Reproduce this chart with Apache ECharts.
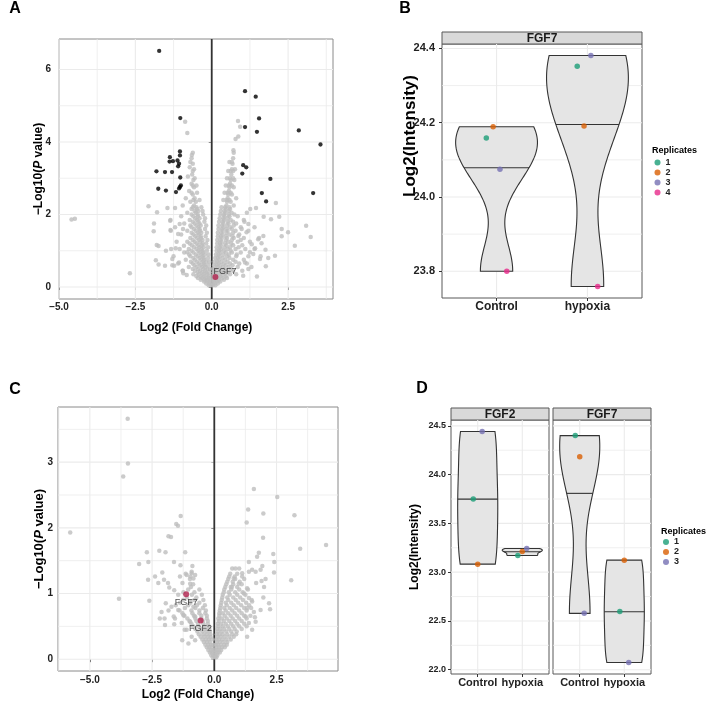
<!DOCTYPE html>
<html>
<head>
<meta charset="utf-8">
<script src="https://cdn.jsdelivr.net/npm/echarts@6/dist/echarts.min.js"></script>
<style>
  html, body { margin: 0; padding: 0; background: #fff; }
  #main { width: 709px; height: 705px; }
</style>
</head>
<body>
<div id="main"></div>
<script>
// ---------- data ----------
// panel A volcano: significant (black), others (grey), highlighted gene
var A_black = [[-1.72,6.51],[-1.03,4.66],[1.09,5.40],[1.44,5.25],[1.55,4.65],[1.09,4.41],[1.48,4.28],[2.85,4.32],
  [3.56,3.93],[1.03,3.36],[1.13,3.30],[1.00,3.13],[1.92,2.98],[1.64,2.59],[1.78,2.36],[3.32,2.59],
  [-1.04,3.74],[-1.04,3.63],[-1.37,3.58],[-1.27,3.47],[-1.38,3.46],[-1.12,3.49],[-1.07,3.40],[-1.10,3.33],
  [-1.81,3.19],[-1.53,3.17],[-1.30,3.17],[-1.03,3.02],[-1.01,2.80],[-1.04,2.76],[-1.75,2.71],[-1.50,2.66],
  [-1.17,2.62],[-1.07,2.72]];
var A_grayOut = [[-0.87,4.56],[-0.80,4.25],[-4.59,1.86],[-4.48,1.88],[-2.68,0.38],[-2.07,2.23],[-1.79,2.06],
  [-1.89,1.75],[-1.90,1.54],[-1.80,1.16],[-1.74,1.13],[-1.83,0.74],[-1.74,0.62],[-1.35,1.85],[-1.35,1.57],
  [-1.50,1.00],[-1.29,0.60],[-0.95,0.45],[-1.45,2.18],[-1.20,2.18],[-1.36,1.83],[-1.34,1.55],[-1.05,1.74],
  [-1.10,1.46],[-0.94,1.60],[-1.33,1.05],[-1.18,1.07],[-1.53,0.59],[-1.29,0.77],[-1.23,0.59],[-1.07,0.68],
  [-0.93,0.38],[-0.82,0.33],[-0.91,1.14],[-0.80,0.96],[-0.65,3.64],[-0.72,3.30],[-0.78,3.05],
  [0.86,4.58],[0.93,4.42],[0.87,4.15],[0.78,4.08],[0.71,3.77],[2.10,2.32],[1.26,2.15],[1.45,2.18],
  [1.70,1.94],[1.94,1.87],[2.21,1.94],[2.29,1.60],[2.29,1.40],[2.50,1.51],[2.72,1.14],[3.09,1.69],
  [3.24,1.38],[2.07,0.86],[1.77,0.57],[1.48,0.29],[1.85,0.80],[1.76,1.03],[1.63,1.21],[1.69,1.41],
  [1.52,1.32],[1.42,1.07],[1.36,0.91],[1.58,0.77],[1.25,0.96],[1.31,1.18],[1.09,0.68],[1.20,0.50],
  [1.03,0.31],[1.07,1.80],[1.20,1.74],[0.98,1.60],[1.14,1.51],[0.87,1.41]];
var A_grayRows = [[0.05,[-0.10,-0.03,0.04,0.12]],[0.15,[-0.25,-0.15,-0.06,0.08,0.18,0.28]],
  [0.25,[-0.45,-0.32,-0.20,-0.10,0.10,0.22,0.35,0.50]],[0.35,[-0.60,-0.42,-0.28,-0.15,0.14,0.28,0.42,0.60,0.80]],
  [0.45,[-0.95,-0.55,-0.38,-0.22,0.16,0.32,0.48,0.70,1.00]],[0.55,[-0.75,-0.50,-0.32,-0.20,0.20,0.36,0.55,0.85,1.30]],
  [0.65,[-1.10,-0.62,-0.42,-0.26,0.22,0.40,0.60,0.90,1.15]],[0.75,[-0.85,-0.55,-0.35,-0.24,0.24,0.44,0.70,1.05]],
  [0.85,[-1.25,-0.70,-0.46,-0.30,0.26,0.50,0.80,1.20,1.60]],[0.95,[-0.90,-0.60,-0.40,-0.28,0.28,0.46,0.66,0.95]],
  [1.05,[-1.05,-0.75,-0.50,-0.34,0.30,0.52,0.78,1.10,1.40]],[1.15,[-0.65,-0.44,-0.32,0.30,0.48,0.70,1.00]],
  [1.25,[-1.15,-0.80,-0.56,-0.38,0.32,0.54,0.85,1.25]],[1.35,[-0.70,-0.48,-0.35,0.33,0.50,0.72,1.05,1.55]],
  [1.45,[-1.00,-0.60,-0.42,0.35,0.58,0.90]],[1.55,[-0.80,-0.52,-0.38,0.36,0.52,0.78,1.20]],
  [1.65,[-1.20,-0.66,-0.44,0.38,0.60,0.95,1.40]],[1.75,[-0.90,-0.56,-0.40,0.38,0.55,0.80]],
  [1.85,[-0.72,-0.48,0.40,0.62,1.05]],[1.95,[-1.00,-0.60,-0.45,0.42,0.58,0.85]],
  [2.05,[-0.80,-0.52,0.44,0.65,1.15]],[2.15,[-0.66,-0.48,0.46,0.60]],[2.25,[-0.95,-0.58,0.48,0.72]],
  [2.35,[-0.70,-0.52,0.50,0.62]],[2.45,[-0.85,-0.56,0.52,0.80]],[2.55,[-0.62,0.54,0.66]],[2.65,[-0.74,0.56]],
  [2.75,[-0.58,0.58,0.72]],[2.85,[-0.66,0.60]],[2.95,[-0.60,0.62,0.74]],[3.10,[-0.64,0.64]],
  [3.25,[-0.58,0.66,0.76]],[3.40,[-0.62,0.68]],[3.55,[-0.66,0.70]],[3.70,[-0.62,0.72]]];
var A_grayRows2 = [[0.10,[-0.18,-0.08,0.02,0.10,0.20]],[0.20,[-0.36,-0.24,-0.14,-0.04,0.06,0.14,0.24,0.40]],
  [0.30,[-0.50,-0.36,-0.24,-0.10,0.00,0.08,0.18,0.30,0.46]],[0.40,[-0.46,-0.32,-0.18,-0.08,0.06,0.10,0.22,0.38,0.54]],
  [0.50,[-0.62,-0.44,-0.28,-0.14,-0.06,0.06,0.12,0.26,0.42,0.62]],[0.60,[-0.56,-0.38,-0.24,-0.12,0.08,0.16,0.28,0.46,0.68]],
  [0.70,[-0.68,-0.48,-0.30,-0.18,-0.08,0.10,0.18,0.32,0.52,0.78]],[0.80,[-0.60,-0.40,-0.26,-0.12,0.12,0.20,0.36,0.58]],
  [0.90,[-0.74,-0.52,-0.34,-0.22,-0.10,0.14,0.22,0.38,0.56,0.82]],[1.00,[-0.66,-0.44,-0.30,-0.16,0.16,0.24,0.40,0.62]],
  [1.10,[-0.58,-0.40,-0.26,-0.12,0.16,0.26,0.42,0.60,0.88]],[1.20,[-0.72,-0.50,-0.30,-0.18,0.18,0.27,0.44,0.64]],
  [1.30,[-0.62,-0.42,-0.30,-0.14,0.18,0.28,0.46,0.66,0.95]],[1.40,[-0.54,-0.36,-0.20,0.20,0.30,0.46,0.68]],
  [1.50,[-0.66,-0.46,-0.34,-0.16,0.20,0.31,0.48,0.70]],[1.60,[-0.58,-0.40,-0.22,0.22,0.33,0.48,0.66]],
  [1.70,[-0.70,-0.50,-0.36,-0.18,0.22,0.34,0.50,0.72]],[1.80,[-0.62,-0.44,-0.24,0.24,0.36,0.52,0.70]],
  [1.90,[-0.54,-0.40,-0.22,0.26,0.38,0.52]],[2.00,[-0.66,-0.46,-0.28,0.28,0.40,0.56,0.74]],
  [2.10,[-0.56,-0.44,-0.30,0.30,0.42,0.56]],[2.20,[-0.62,-0.50,-0.34,0.32,0.44,0.58]],
  [2.40,[-0.60,-0.40,0.38,0.50,0.58]],[2.60,[-0.66,-0.48,0.42,0.52,0.62]],[2.80,[-0.62,-0.50,0.46,0.56,0.66]],
  [3.00,[-0.56,0.50,0.60,0.70]],[3.20,[-0.62,0.54,0.62,0.70]],[3.45,[-0.70,0.58,0.66]]];
var A_hiNames = ['FGF7'];
var A_hi = [[0.12,0.28]];

// panel C volcano
var C_grayOut = [[-3.48,3.66],[-3.47,2.98],[-3.66,2.78],[-5.79,1.93],[-3.83,0.92],[-1.35,2.18],[-1.53,2.06],
  [-1.46,2.03],[-1.84,1.87],[-1.74,1.86],[-2.71,1.63],[-2.21,1.65],[-1.96,1.63],[-1.17,1.63],[-3.02,1.45],
  [-2.65,1.48],[-1.62,1.48],[-1.36,1.43],[-2.66,1.21],[-2.38,1.26],[-2.09,1.32],[-2.02,1.21],[-1.86,1.16],
  [-2.25,1.16],[-1.81,1.09],[-2.61,0.89],[-1.61,1.05],[-1.38,1.26],[-1.28,1.16],[-1.11,1.28],[-0.91,1.33],
  [-0.77,1.28],[-0.88,1.42],[-0.96,1.26],[-1.61,0.53],[-1.19,0.45],[-1.29,0.29],[-1.63,0.65],[-1.84,0.74],
  [-2.00,0.62],[-1.95,0.85],[-2.12,0.72],[-2.19,0.62],[-1.98,0.52],[-1.72,0.80],[-1.45,0.75],[-1.58,0.62],
  [-1.31,0.55],[-1.11,0.45],[-0.91,0.34],[-1.04,0.24],[-0.77,0.29],[-0.97,0.57],[-0.77,0.65],[-1.24,0.67],
  [-0.84,0.80],[-0.97,0.88],[-0.97,1.15],[-0.84,1.23],[-0.91,1.31],
  [1.59,2.59],[2.53,2.47],[1.36,2.28],[1.97,2.22],[3.22,2.19],[1.30,2.08],[1.96,1.85],[3.45,1.68],
  [4.49,1.74],[3.09,1.20],[1.79,1.62],[1.72,1.56],[2.37,1.60],[2.41,1.48],[2.40,1.32],[1.39,1.48],
  [1.93,1.42],[1.86,1.36],[1.66,1.33],[1.52,1.36],[1.39,1.33],[2.06,1.22],[1.90,1.19],[1.68,1.16],
  [2.00,1.10],[2.20,0.85],[2.24,0.76],[1.97,0.94],[1.86,0.75],[1.63,0.64],[1.66,0.57],[0.85,1.38],
  [1.12,1.31],[0.78,1.23],[0.98,1.15],[1.32,1.08],[0.71,1.10],[1.19,1.00],[1.39,0.93],[1.52,0.88],
  [1.32,0.78],[1.59,0.72],[1.26,0.65],[1.39,0.55],[1.52,0.45],[1.32,0.34]];
var C_grayRows = [[0.03,[-0.06,0.02,0.08]],[0.10,[-0.18,-0.10,-0.03,0.06,0.14,0.22]],
  [0.18,[-0.30,-0.20,-0.11,0.08,0.18,0.30,0.42]],[0.26,[-0.42,-0.30,-0.18,0.10,0.22,0.36,0.52]],
  [0.34,[-0.55,-0.40,-0.26,-0.15,0.12,0.26,0.42,0.60,0.78]],[0.42,[-0.68,-0.48,-0.32,-0.18,0.14,0.30,0.48,0.68,0.90]],
  [0.50,[-0.85,-0.62,-0.40,-0.22,0.16,0.34,0.54,0.76,1.00,1.30]],[0.58,[-1.00,-0.72,-0.46,-0.26,0.18,0.38,0.60,0.84,1.10]],
  [0.66,[-1.20,-0.82,-0.52,-0.30,0.20,0.42,0.66,0.92,1.20,1.45]],[0.74,[-1.40,-0.92,-0.60,-0.34,0.22,0.46,0.72,1.00,1.30]],
  [0.82,[-1.55,-1.05,-0.70,-0.38,0.26,0.50,0.78,1.08,1.40]],[0.90,[-1.25,-0.80,-0.44,0.30,0.56,0.86,1.15,1.50]],
  [0.98,[-1.45,-0.90,-0.50,0.34,0.62,0.92,1.25]],[1.06,[-1.05,-0.60,0.40,0.68,1.00,1.35]],
  [1.14,[-0.85,0.48,0.76,1.10]],[1.22,[-0.98,0.56,0.84,1.20]],[1.30,[-1.15,0.64,0.92]],[1.38,[0.72,1.00]]];
var C_grayRows2 = [[0.06,[-0.12,-0.04,0.04,0.12]],[0.14,[-0.24,-0.14,-0.06,0.02,0.10,0.18,0.28]],
  [0.22,[-0.36,-0.24,-0.14,-0.06,0.06,0.14,0.26,0.40,0.50]],[0.30,[-0.48,-0.34,-0.22,-0.10,0.08,0.18,0.32,0.48,0.66]],
  [0.38,[-0.62,-0.44,-0.30,-0.16,0.10,0.20,0.34,0.52,0.72,0.88]],[0.46,[-0.76,-0.54,-0.36,-0.20,0.12,0.24,0.40,0.60,0.82,1.10]],
  [0.54,[-0.92,-0.66,-0.44,-0.26,0.14,0.28,0.46,0.68,0.92,1.20]],[0.62,[-1.08,-0.76,-0.52,-0.30,0.16,0.30,0.50,0.74,1.00,1.30]],
  [0.70,[-1.28,-0.88,-0.60,-0.36,0.20,0.34,0.56,0.82,1.10]],[0.78,[-1.18,-0.76,-0.46,0.24,0.40,0.62,0.88,1.20,1.48]],
  [0.86,[-1.38,-0.96,-0.60,0.28,0.46,0.68,0.96,1.28]],[0.94,[-1.10,-0.72,0.32,0.52,0.76,1.04]],
  [1.02,[-1.24,-0.80,0.38,0.58,0.84,1.14]],[1.10,[-0.94,0.44,0.66,0.92]],[1.18,[0.52,0.74,1.02]],[1.26,[0.60,0.82,1.12]]];
var C_hiNames = ['FGF7','FGF2'];
var C_hi = [[-1.13,0.99],[-0.55,0.59]];

// panel B violin (FGF7), values per replicate 1..4
var B_categories = ['Control','hypoxia'];
var B_replicates = ['1','2','3','4'];
var B_control = [24.159, 24.189, 24.075, 23.800];
var B_hypoxia = [24.352, 24.191, 24.381, 23.759];

// panel D violins, values per replicate 1..3
var D_genes = ['FGF2','FGF7'];
var D_categories = ['Control','hypoxia'];
var D_replicates = ['1','2','3'];
var D_FGF2_control = [23.750, 23.082, 24.442];
var D_FGF2_hypoxia = [23.171, 23.212, 23.242];
var D_FGF7_control = [24.400, 24.183, 22.578];
var D_FGF7_hypoxia = [22.598, 23.123, 22.074];

// ---------- helpers ----------
var FONT = 'Liberation Sans, Arial, sans-serif';
var repColors = ['#1B9E77', '#D95F02', '#7570B3', '#E7298A'];

function flattenRows(rows) {
  var out = [];
  rows.forEach(function (r) { r[1].forEach(function (x) { out.push([x, r[0]]); }); });
  return out;
}
function fmt(d) { return function (v) { return v.toFixed(d).replace('-', '\u2212'); }; }

// kernel density like ggplot's geom_violin (gaussian, bw.nrd0, trimmed, scale = "width")
function q7(s, p) {
  var h = (s.length - 1) * p, lo = Math.floor(h);
  var hi = Math.min(lo + 1, s.length - 1);
  return s[lo] + (h - lo) * (s[hi] - s[lo]);
}
function violinShape(vals) {
  var s = vals.slice().sort(function (a, b) { return a - b; });
  var n = s.length, mean = s.reduce(function (a, b) { return a + b; }, 0) / n;
  var sd = Math.sqrt(s.reduce(function (a, b) { return a + (b - mean) * (b - mean); }, 0) / (n - 1));
  var lo = Math.min(sd, (q7(s, 0.75) - q7(s, 0.25)) / 1.34);
  if (!lo) lo = sd || Math.abs(s[0]) || 1;
  var bw = 0.9 * lo * Math.pow(n, -0.2);
  var N = 120, ys = [], ds = [], mx = 0;
  for (var i = 0; i < N; i++) {
    var y = s[0] + (s[n - 1] - s[0]) * i / (N - 1), d = 0;
    s.forEach(function (v) { var z = (y - v) / bw; d += Math.exp(-0.5 * z * z); });
    ys.push(y); ds.push(d); if (d > mx) mx = d;
  }
  var w = ds.map(function (d) { return d / mx; });
  var tot = ds.reduce(function (a, b) { return a + b; }, 0), cum = 0, med = ys[0], medW = w[0], prev = 0;
  for (var j = 0; j < N; j++) {
    cum += ds[j] / tot;
    if (cum >= 0.5) {
      var f = j === 0 ? 0 : (0.5 - prev) / (cum - prev);
      med = j === 0 ? ys[0] : ys[j - 1] + f * (ys[j] - ys[j - 1]);
      medW = j === 0 ? w[0] : w[j - 1] + f * (w[j] - w[j - 1]);
      break;
    }
    prev = cum;
  }
  return { y: ys, w: w, med: med, medW: medW };
}

function gridLineSeries(idx, xMaj, xMin, yMaj, yMin, vline) {
  var d = [];
  xMin.forEach(function (v) { d.push([0, v, 1]); });
  yMin.forEach(function (v) { d.push([1, v, 1]); });
  xMaj.forEach(function (v) { d.push([0, v, 0]); });
  yMaj.forEach(function (v) { d.push([1, v, 0]); });
  if (vline) d.push([0, 0, 2]);
  return {
    type: 'custom', xAxisIndex: idx, yAxisIndex: idx, z: 1, silent: true, data: d,
    renderItem: function (params, api) {
      var cs = params.coordSys, k = api.value(0), v = api.value(1), m = api.value(2);
      var style = m === 2 ? { stroke: '#333', lineWidth: 1.8 } : { stroke: '#EBEBEB', lineWidth: m === 1 ? 0.8 : 1.1 };
      var shape;
      if (k === 0) {
        var px = api.coord([v, api.value(1)])[0];
        shape = { x1: px, y1: cs.y, x2: px, y2: cs.y + cs.height };
      } else {
        var py = api.coord([1, v])[1];
        shape = { x1: cs.x, y1: py, x2: cs.x + cs.width, y2: py };
      }
      return { type: 'line', shape: shape, style: style };
    }
  };
}

function violinSeries(idx, groups) {
  var shapes = groups.map(violinShape);
  return {
    type: 'custom', xAxisIndex: idx, yAxisIndex: idx, z: 2, silent: true,
    data: groups.map(function (g, i) { return [i + 1, i]; }),
    renderItem: function (params, api) {
      var s = shapes[params.dataIndex], c = params.dataIndex + 1, pts = [], i;
      for (i = 0; i < s.y.length; i++) pts.push(api.coord([c + 0.45 * s.w[i], s.y[i]]));
      for (i = s.y.length - 1; i >= 0; i--) pts.push(api.coord([c - 0.45 * s.w[i], s.y[i]]));
      var a = api.coord([c - 0.45 * s.medW, s.med]), b = api.coord([c + 0.45 * s.medW, s.med]);
      return {
        type: 'group', children: [
          { type: 'polygon', shape: { points: pts }, style: { fill: '#E5E5E5', stroke: '#333', lineWidth: 1.1 } },
          { type: 'line', shape: { x1: a[0], y1: a[1], x2: b[0], y2: b[1] }, style: { stroke: '#333', lineWidth: 1.1 } }
        ]
      };
    }
  };
}

function axis(o) {
  return {
    type: 'value', gridIndex: o.grid, min: o.min, max: o.max, show: o.show !== false,
    position: o.pos,
    axisLine: { show: false }, splitLine: { show: false },
    axisTick: { show: !!o.ticks, customValues: o.ticks, length: 3, lineStyle: { color: '#333', width: 1 } },
    axisLabel: { show: !!o.ticks, customValues: o.ticks, formatter: o.fmt, margin: o.margin,
      color: '#222', fontFamily: FONT, fontWeight: 'bold', fontSize: o.size },
    name: o.name, nameLocation: 'middle', nameGap: o.gap, nameMoveOverlap: false,
    nameTextStyle: { color: '#000', fontFamily: FONT, fontWeight: 'bold', fontSize: o.nameSize, rich: o.rich }
  };
}

function pValueRich(size) {
  return {
    a: { fontFamily: FONT, fontWeight: 'bold', fontSize: size, color: '#000' },
    b: { fontFamily: FONT, fontWeight: 'bold', fontStyle: 'italic', fontSize: size, color: '#000' }
  };
}

function strip(x, y, w, h, text) {
  return {
    type: 'group', children: [
      { type: 'rect', shape: { x: x, y: y, width: w, height: h }, style: { fill: '#D9D9D9', stroke: '#595959', lineWidth: 1 } },
      { type: 'text', x: x + w / 2, y: y + h / 2 + 0.5,
        style: { text: text, fontFamily: FONT, fontWeight: 'bold', fontSize: 12, fill: '#1a1a1a', align: 'center', verticalAlign: 'middle' } }
    ]
  };
}
function label(x, y, text, size, align, rot) {
  return { type: 'text', x: x, y: y, rotation: rot || 0,
    style: { text: text, fontFamily: FONT, fontWeight: 'bold', fontSize: size, fill: '#000', align: align || 'center', verticalAlign: 'middle' } };
}

var catFmt = function (cats) { return function (v) { return cats[Math.round(v) - 1]; }; };
var dodge4 = [-0.1125, -0.0375, 0.0375, 0.1125];
var dodge3 = [-0.1, 0, 0.1];

// ---------- series ----------
var series = [];
// panel A
series.push(gridLineSeries(0, [-5, -2.5, 0, 2.5], [-3.75, -1.25, 1.25, 3.75], [0, 2, 4, 6], [1, 3, 5], true));
series.push({ type: 'scatter', xAxisIndex: 0, yAxisIndex: 0, z: 3, silent: true, symbolSize: 4.5,
  itemStyle: { color: '#BEBEBE' }, data: flattenRows(A_grayRows).concat(flattenRows(A_grayRows2), A_grayOut) });
series.push({ type: 'scatter', xAxisIndex: 0, yAxisIndex: 0, z: 4, silent: true, symbolSize: 4.3,
  itemStyle: { color: '#000' }, data: A_black });
series.push({ type: 'scatter', xAxisIndex: 0, yAxisIndex: 0, z: 5, silent: true, symbolSize: 6,
  itemStyle: { color: '#B0224E' },
  data: A_hi.map(function (p, i) { return { name: A_hiNames[i], value: p }; }),
  label: { show: true, formatter: '{b}', position: 'right', offset: [-10, -5], fontFamily: FONT, fontSize: 9, color: '#222' } });

// panel C
series.push(gridLineSeries(2, [-5, -2.5, 0, 2.5], [-6.25, -3.75, -1.25, 1.25, 3.75], [0, 1, 2, 3], [0.5, 1.5, 2.5, 3.5], true));
series.push({ type: 'scatter', xAxisIndex: 2, yAxisIndex: 2, z: 3, silent: true, symbolSize: 4.5,
  itemStyle: { color: '#BEBEBE' }, data: flattenRows(C_grayRows).concat(flattenRows(C_grayRows2), C_grayOut) });
series.push({ type: 'scatter', xAxisIndex: 2, yAxisIndex: 2, z: 5, silent: true, symbolSize: 6,
  itemStyle: { color: '#B0224E' },
  data: C_hi.map(function (p, i) { return { name: C_hiNames[i], value: p }; }),
  label: { show: true, formatter: '{b}', position: 'bottom', distance: 1, fontFamily: FONT, fontSize: 9, color: '#222' } });

// panel B
series.push(gridLineSeries(1, [1, 2], [], [23.8, 24.0, 24.2, 24.4], [23.9, 24.1, 24.3], false));
series.push(violinSeries(1, [B_control, B_hypoxia]));
B_replicates.forEach(function (r, i) {
  series.push({ type: 'scatter', name: r, xAxisIndex: 1, yAxisIndex: 1, z: 3, silent: true, symbolSize: 5.5,
    itemStyle: { color: repColors[i] },
    data: [[1 + dodge4[i], B_control[i]], [2 + dodge4[i], B_hypoxia[i]]] });
});

// panel D
var D_groups = [[D_FGF2_control, D_FGF2_hypoxia], [D_FGF7_control, D_FGF7_hypoxia]];
D_genes.forEach(function (g, p) {
  var idx = 3 + p;
  series.push(gridLineSeries(idx, [1, 2], [], [22, 22.5, 23, 23.5, 24, 24.5], [22.25, 22.75, 23.25, 23.75, 24.25], false));
  series.push(violinSeries(idx, D_groups[p]));
  D_replicates.forEach(function (r, i) {
    series.push({ type: 'scatter', name: r, xAxisIndex: idx, yAxisIndex: idx, z: 3, silent: true, symbolSize: 5.5,
      itemStyle: { color: repColors[i] },
      data: [[1 + dodge3[i], D_groups[p][0][i]], [2 + dodge3[i], D_groups[p][1][i]]] });
  });
});

// ---------- option ----------
var gridBase = { show: true, backgroundColor: 'transparent', borderWidth: 1, containLabel: false, outerBoundsMode: 'none' };
var option = {
  animation: false,
  grid: [
    Object.assign({ left: 59, top: 39, width: 274, height: 260, borderColor: '#8a8a8a' }, gridBase),
    Object.assign({ left: 442, top: 44, width: 200, height: 254, borderColor: '#595959' }, gridBase),
    Object.assign({ left: 58, top: 407, width: 280, height: 264, borderColor: '#8a8a8a' }, gridBase),
    Object.assign({ left: 451, top: 420, width: 98, height: 254, borderColor: '#595959' }, gridBase),
    Object.assign({ left: 553, top: 420, width: 98, height: 254, borderColor: '#595959' }, gridBase)
  ],
  xAxis: [
    axis({ grid: 0, min: -5, max: 3.97, pos: 'bottom', ticks: [-5, -2.5, 0, 2.5], fmt: fmt(1), margin: 3, size: 10,
      name: 'Log2 (Fold Change)', gap: 23, nameSize: 12 }),
    axis({ grid: 1, min: 0.4, max: 2.6, pos: 'bottom', ticks: [1, 2], fmt: catFmt(B_categories), margin: 3, size: 12 }),
    axis({ grid: 2, min: -6.28, max: 4.97, pos: 'bottom', ticks: [-5, -2.5, 0, 2.5], fmt: fmt(1), margin: 4, size: 10,
      name: 'Log2 (Fold Change)', gap: 18, nameSize: 12 }),
    axis({ grid: 3, min: 0.4, max: 2.6, pos: 'bottom', ticks: [1, 2], fmt: catFmt(D_categories), margin: 3, size: 11 }),
    axis({ grid: 4, min: 0.4, max: 2.6, pos: 'bottom', ticks: [1, 2], fmt: catFmt(D_categories), margin: 3, size: 11 })
  ],
  yAxis: [
    axis({ grid: 0, min: -0.33, max: 6.84, pos: 'left', ticks: [0, 2, 4, 6], fmt: fmt(0), margin: 8, size: 10,
      name: '{a|\u2212Log10(}{b|P}{a| value)}', gap: 14, nameSize: 12, rich: pValueRich(12) }),
    axis({ grid: 1, min: 23.728, max: 24.412, pos: 'left', ticks: [23.8, 24.0, 24.2, 24.4], fmt: fmt(1), margin: 7, size: 11 }),
    axis({ grid: 2, min: -0.18, max: 3.84, pos: 'left', ticks: [0, 1, 2, 3], fmt: fmt(0), margin: 5, size: 10,
      name: '{a|\u2212Log10(}{b|P}{a| value)}', gap: 12, nameSize: 13, rich: pValueRich(13) }),
    axis({ grid: 3, min: 21.956, max: 24.56, pos: 'left', ticks: [22, 22.5, 23, 23.5, 24, 24.5], fmt: fmt(1), margin: 5, size: 9,
      name: 'Log2(Intensity)', gap: 30, nameSize: 12 }),
    axis({ grid: 4, min: 21.956, max: 24.56, pos: 'left', show: false })
  ],
  legend: [
    { data: B_replicates, orient: 'vertical', left: 654.5, top: 157.5, padding: 0, itemGap: 0, itemWidth: 6, itemHeight: 6,
      icon: 'circle', selectedMode: false,
      textStyle: { fontFamily: FONT, fontWeight: 'bold', fontSize: 9, lineHeight: 10, color: '#222' } },
    { data: D_replicates, orient: 'vertical', left: 663, top: 537, padding: 0, itemGap: 0, itemWidth: 6, itemHeight: 6,
      icon: 'circle', selectedMode: false,
      textStyle: { fontFamily: FONT, fontWeight: 'bold', fontSize: 9, lineHeight: 10, color: '#222' } }
  ],
  graphic: [
    label(15, 9, 'A', 16), label(405, 9, 'B', 16), label(15, 390, 'C', 16), label(422, 389, 'D', 16),
    label(410, 136, 'Log2(Intensity)', 17, 'center', Math.PI / 2),
    strip(442, 32, 200, 12, 'FGF7'),
    strip(451, 408, 98, 12, 'FGF2'),
    strip(553, 408, 98, 12, 'FGF7'),
    label(652, 151, 'Replicates', 9, 'left'),
    label(661, 532, 'Replicates', 9, 'left')
  ],
  series: series
};

var chart = echarts.init(document.getElementById('main'), null, { renderer: 'canvas' });
chart.setOption(option);
</script>
</body>
</html>
